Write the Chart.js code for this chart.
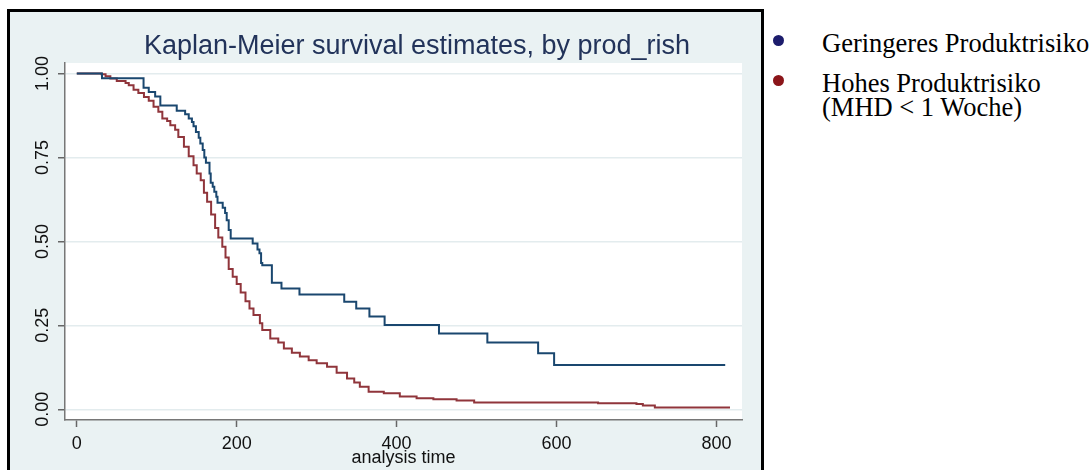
<!DOCTYPE html>
<html>
<head>
<meta charset="utf-8">
<script src="https://cdn.jsdelivr.net/npm/chart.js@4.4.0/dist/chart.umd.min.js"></script>
<style>
  html, body { margin:0; padding:0; background:#fff; overflow:hidden; width:1091px; height:470px; }
  #box { position:absolute; left:7px; top:9px; width:751px; height:470px; border:3px solid #000; background:#eaf2f3; }
  #box canvas { display:block; }
  #legend { position:absolute; left:773px; top:0; font-family:"Liberation Serif","Times New Roman",serif; font-size:26.5px; line-height:24px; color:#000; }
  .item { position:absolute; left:0; white-space:nowrap; }
  .dot { position:absolute; left:0; top:4px; width:11px; height:11px; border-radius:50%; }
  .txt { position:absolute; left:49px; top:0; }
</style>
</head>
<body>
<div id="box"><canvas id="km" width="751" height="458"></canvas></div>
<div id="legend"></div>
<script>
// Kaplan-Meier estimates (time of step, survival after the step)
var blueTime = [0, 31.5, 83.5, 90, 98, 104.5, 125, 135.5, 140, 144, 146, 149, 152.5, 154.5, 157.5, 159.5, 161.5, 166, 167.5, 170, 172, 174.5, 176, 182.5, 185.5, 187.5, 190, 192.5, 220, 226, 228.5, 230.5, 232, 244, 256, 278.5, 334.5, 349.5, 366, 385, 453, 513.5, 577, 597, 811];
var blueSurv = [1.0, 0.986, 0.958, 0.945, 0.932, 0.905, 0.889, 0.879, 0.866, 0.856, 0.843, 0.826, 0.809, 0.792, 0.772, 0.750, 0.734, 0.702, 0.675, 0.663, 0.648, 0.633, 0.615, 0.600, 0.585, 0.563, 0.534, 0.509, 0.494, 0.476, 0.465, 0.436, 0.429, 0.377, 0.360, 0.342, 0.320, 0.300, 0.276, 0.251, 0.226, 0.199, 0.167, 0.132, 0.132];

var redTime = [0, 31, 36, 42, 50, 61, 65, 71, 77, 84, 90, 96, 102, 107, 113, 117, 123, 127, 134, 140, 146, 150, 155, 159, 163, 168, 173, 177, 182, 186, 190, 195, 200, 205, 211, 216, 221, 229, 232, 242, 252, 259, 269, 279, 290, 300, 313, 325, 338, 347, 354, 365, 384, 404, 425, 446, 475, 497, 652, 700, 708, 723, 817];
var redSurv = [1.0, 0.998, 0.992, 0.985, 0.978, 0.972, 0.965, 0.952, 0.942, 0.930, 0.919, 0.901, 0.886, 0.866, 0.859, 0.846, 0.833, 0.811, 0.782, 0.754, 0.727, 0.702, 0.682, 0.645, 0.618, 0.580, 0.540, 0.512, 0.484, 0.452, 0.418, 0.395, 0.373, 0.348, 0.322, 0.300, 0.281, 0.256, 0.236, 0.211, 0.199, 0.181, 0.168, 0.157, 0.146, 0.137, 0.127, 0.109, 0.092, 0.080, 0.067, 0.052, 0.048, 0.038, 0.033, 0.030, 0.026, 0.020, 0.018, 0.0155, 0.011, 0.005, 0.005];

var xTicks = [0, 200, 400, 600, 800];
var yTicks = [0, 0.25, 0.5, 0.75, 1];
var seriesLabels = ['Geringeres Produktrisiko', 'Hohes Produktrisiko (MHD < 1 Woche)'];
var legendLines = [['Geringeres Produktrisiko'], ['Hohes Produktrisiko', '(MHD < 1 Woche)']];
var titleText = 'Kaplan-Meier survival estimates, by prod_rish';

var lineColors = ['#1a476f', '#90353b'];
var dotColors = ['#1c1c6c', '#8b1519'];

function toPoints(t, s) {
    return t.map(function(v, i) { return {x: v, y: s[i]}; });
}

// white plot region + title
var plotBg = {
    id: 'plotBg',
    beforeDraw: function(chart) {
        var a = chart.chartArea, ctx = chart.ctx;
        ctx.save();
        ctx.fillStyle = '#ffffff';
        ctx.fillRect(a.left, a.top, a.right - a.left, a.bottom - a.top);
        ctx.restore();
    },
    afterDraw: function(chart) {
        var ctx = chart.ctx;
        ctx.save();
        ctx.font = '27px "Liberation Sans", Arial, sans-serif';
        ctx.fillStyle = '#22335a';
        ctx.textAlign = 'center';
        ctx.textBaseline = 'middle';
        ctx.fillText(titleText, 407, 35);
        ctx.restore();
    }
};

var tickFont = {family: '"Liberation Sans", Arial, sans-serif', size: 18};

var ctx = document.getElementById('km');
var myChart = new Chart(ctx, {
    type: 'line',
    data: {
        datasets: [{
            label: seriesLabels[0],
            data: toPoints(blueTime, blueSurv),
            borderColor: lineColors[0],
            backgroundColor: dotColors[0],
            borderWidth: 2,
            pointRadius: 0,
            stepped: true,
            fill: false
        }, {
            label: seriesLabels[1],
            data: toPoints(redTime, redSurv),
            borderColor: lineColors[1],
            backgroundColor: dotColors[1],
            borderWidth: 2,
            pointRadius: 0,
            stepped: true,
            fill: false
        }]
    },
    options: {
        responsive: false,
        animation: false,
        devicePixelRatio: 1,
        layout: {padding: {top: 51, right: 19, left: 0, bottom: 0}},
        plugins: {
            legend: {display: false},
            tooltip: {enabled: false},
            title: {display: false}
        },
        scales: {
            x: {
                type: 'linear',
                min: -14.75,
                max: 832,
                afterBuildTicks: function(axis) {
                    axis.ticks = xTicks.map(function(v) { return {value: v}; });
                },
                afterFit: function(axis) { axis.height = 50; },
                grid: {drawOnChartArea: false, drawTicks: true, tickLength: 7, tickColor: '#666', tickWidth: 1.5},
                border: {color: '#777', width: 1.5},
                ticks: {font: tickFont, color: '#111', padding: 6, maxRotation: 0, autoSkip: false},
                title: {display: true, text: 'analysis time', font: tickFont, color: '#111', padding: {top: 0, bottom: 1}}
            },
            y: {
                min: -0.032,
                max: 1.0315,
                afterBuildTicks: function(axis) {
                    axis.ticks = yTicks.map(function(v) { return {value: v}; });
                },
                afterFit: function(axis) { axis.width = 55; },
                grid: {color: '#e3ecee', lineWidth: 1.5, drawTicks: true, tickLength: 7, tickColor: '#666', tickWidth: 1.5},
                border: {color: '#777', width: 1.5},
                ticks: {
                    font: tickFont,
                    color: '#111',
                    minRotation: 90,
                    maxRotation: 90,
                    crossAlign: 'center',
                    padding: -3,
                    autoSkip: false,
                    callback: function(v) { return Number(v).toFixed(2); }
                }
            }
        }
    },
    plugins: [plotBg]
});

// legend next to the framed graph
var leg = document.getElementById('legend');
var legendTops = [31, 71];
myChart.data.datasets.forEach(function(ds, i) {
    var item = document.createElement('div');
    item.className = 'item';
    item.style.top = legendTops[i] + 'px';
    var dot = document.createElement('div');
    dot.className = 'dot';
    dot.style.background = ds.backgroundColor;
    var txt = document.createElement('div');
    txt.className = 'txt';
    txt.innerHTML = legendLines[i].map(function(s) {
        return s.replace(/&/g, '&amp;').replace(/</g, '&lt;');
    }).join('<br>');
    item.appendChild(dot);
    item.appendChild(txt);
    leg.appendChild(item);
});
</script>
</body>
</html>
